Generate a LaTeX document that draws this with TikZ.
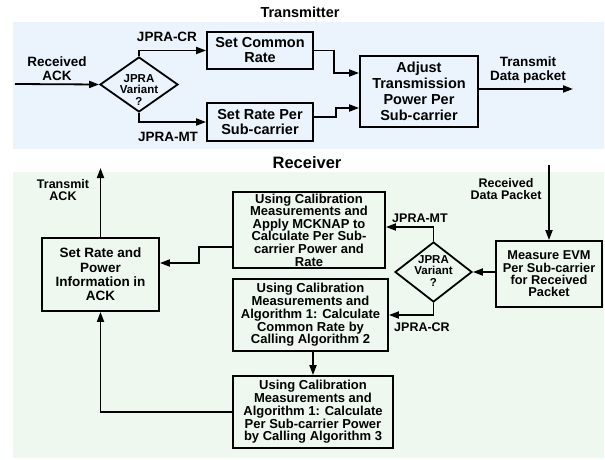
\documentclass[tikz,border=0pt]{standalone}
\usepackage{fontspec}
\setmainfont{Liberation Sans}
\usetikzlibrary{arrows.meta}
\usetikzlibrary{positioning,shapes.geometric}
\definecolor{txback}{RGB}{235,243,253}
\definecolor{rxback}{RGB}{238,248,239}
\tikzset{
  every node/.style={font=\bfseries}
}

\begin{document}
\begin{tikzpicture}[
      x = 1pt, y = -1pt,
      > = {Triangle[length=10pt, width=7pt]},
      line width = 1.8pt,
      txbox/.style = {draw, rectangle, align=center, inner sep=0pt,
        font=\bfseries\fontsize{14.5}{15}\selectfont},
      rxbox/.style = {draw, rectangle, align=center, inner sep=0pt,
        font=\bfseries\fontsize{13}{12.7}\selectfont},
      decision/.style = {draw, diamond, inner sep=0pt},
      dtext/.style = {align=center, font=\bfseries\fontsize{11.5}{11.8}\selectfont},
      txlabel/.style = {align=center, font=\bfseries\fontsize{13.5}{13.5}\selectfont},
      rxlabel/.style = {align=center, font=\bfseries\fontsize{12.5}{12}\selectfont}
  ]
  \useasboundingbox (0,0) rectangle (605,460);

  % Backgrounds
  \fill[txback] (13,22) rectangle (604,149);
  \fill[rxback] (13,172) rectangle (604,458);

  % Transmitter
  \node[font=\bfseries\fontsize{14.5}{14.5}\selectfont] (txtitle) at (300,12) {Transmitter};
  \node[txlabel] (acklbl) at (57,68.5) {Received\\ACK};
  \coordinate (ackin) at (15,84);
  \node[decision, minimum width=78pt, minimum height=55pt] (txvar) at (139,84.5) {};
  \node[dtext] (txvartext) at (139,90) {JPRA\\Variant\\?};
  \node[txbox, minimum width=106pt, minimum height=37pt] (crate) at (260,50.5) {Set Common\\Rate};
  \node[txbox, minimum width=106pt, minimum height=38pt] (mtrate) at (260,122) {Set Rate Per\\Sub-carrier};
  \node[txbox, minimum width=118pt, minimum height=71pt,
        font=\bfseries\fontsize{14.5}{16}\selectfont] (adjust) at (419,91.5)
        {Adjust\\Transmission\\Power Per\\Sub-carrier};
  \node[txlabel] (datalbl) at (528,70) {Transmit\\Data packet};
  \coordinate (dataout) at (573,89);
  \node[txlabel] (txcrlbl) at (167,37) {JPRA-CR};
  \node[txlabel] (txmtlbl) at (168,137) {JPRA-MT};

  \draw[->] (ackin) -- (txvar.west);
  \draw[->] (txvar.north) |- (crate.west);
  \draw[->] (txvar.south) |- (mtrate.west);
  \draw[->] (crate.east) -- ++(20,0) |- ([yshift=18.5pt]adjust.west);
  \draw[->] ([yshift=5pt]mtrate.east) -- ++(22,0) |- ([yshift=-16.5pt]adjust.west);
  \draw[->] (adjust.east |- dataout) -- (dataout);

  % Receiver
  \node[font=\bfseries\fontsize{16.5}{16.5}\selectfont] (rxtitle) at (307,163) {Receiver};
  \node[rxbox, minimum width=117pt, minimum height=73pt,
        font=\bfseries\fontsize{13.5}{14.3}\selectfont] (setinfo) at (100.5,274.5)
        {Set Rate and\\Power\\Information in\\ACK};
  \coordinate (ackout) at (100.5,168);
  \node[rxlabel] (ackoutlbl) at (63,190) {Transmit\\ACK};
  \node[rxbox, minimum width=152pt, minimum height=76pt,
        font=\bfseries\fontsize{13}{12.6}\selectfont] (mcknap) at (309,230)
        {Using Calibration\\Measurements and\\Apply MCKNAP to\\Calculate Per Sub-\\carrier Power and\\Rate};
  \node[rxbox, minimum width=155pt, minimum height=72pt] (calccr) at (310.5,315)
        {Using Calibration\\Measurements and\\Algorithm 1: Calculate\\Common Rate by\\Calling Algorithm 2};
  \node[rxbox, minimum width=160pt, minimum height=72pt] (calcmt) at (313,412)
        {Using Calibration\\Measurements and\\Algorithm 1: Calculate\\Per Sub-carrier Power\\by Calling Algorithm 3};
  \node[rxbox, minimum width=106pt, minimum height=66pt,
        font=\bfseries\fontsize{12.8}{12.4}\selectfont] (evm) at (549,274)
        {Measure EVM\\Per Sub-carrier\\for Received\\Packet};
  \coordinate (datain) at (549,165);
  \node[rxlabel] (datainlbl) at (506,189) {Received\\Data Packet};
  \node[decision, minimum width=77pt, minimum height=60pt] (rxvar) at (433.5,272) {};
  \node[dtext] (rxvartext) at (433.5,271) {JPRA\\Variant\\?};
  \node[rxlabel] (rxmtlbl) at (420,218) {JPRA-MT};
  \node[rxlabel] (rxcrlbl) at (422,327) {JPRA-CR};

  \draw[->] (setinfo.north) -- (ackout);
  \draw[->] (datain) -- (evm.north);
  \draw[->] (evm.west |- rxvar) -- (rxvar.east);
  \draw[->] (rxvar.north) |- ([yshift=3pt]mcknap.east);
  \draw[->] (rxvar.south) |- (calccr.east);
  \draw[->] ([yshift=-17pt]mcknap.west) -- ++(-33,0) |- ([yshift=11.5pt]setinfo.east);
  \draw[->] (calcmt.north |- calccr.south) -- (calcmt.north);
  \draw[->] (calcmt.west) -| (setinfo.south);
\end{tikzpicture}
\end{document}
